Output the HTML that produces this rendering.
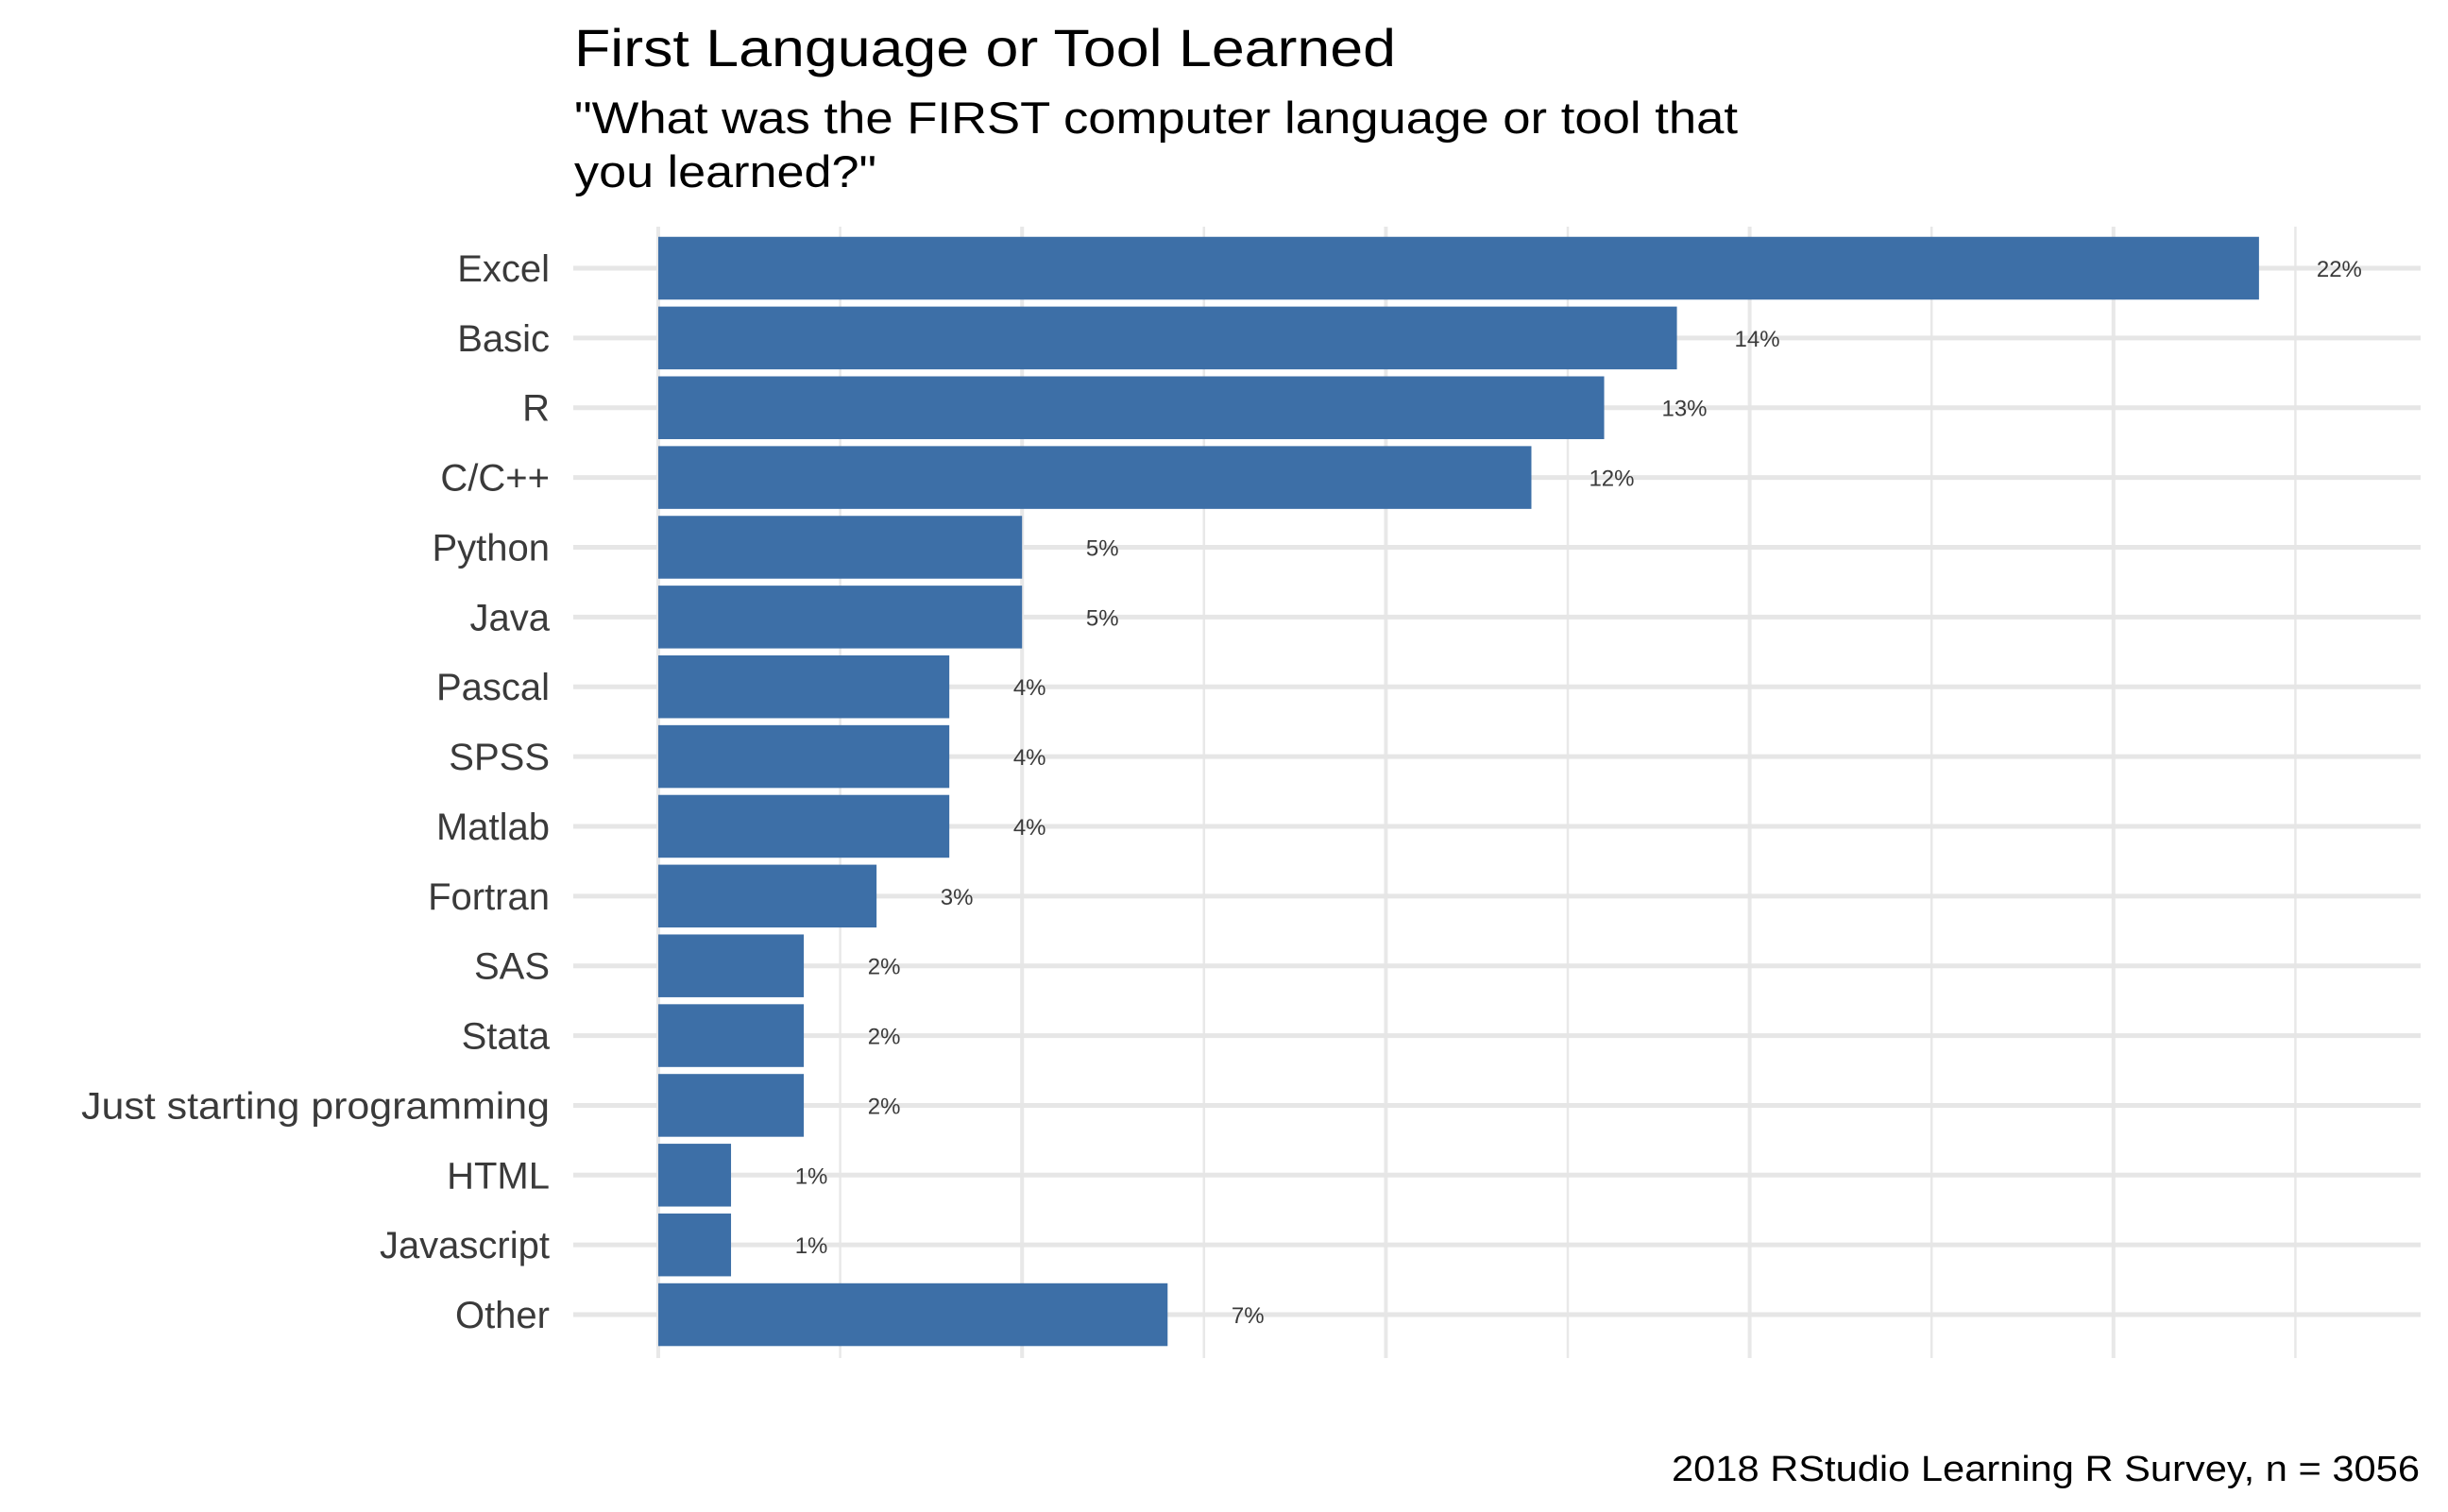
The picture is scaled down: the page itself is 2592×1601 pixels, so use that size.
<!DOCTYPE html>
<html><head><meta charset="utf-8"><style>
html,body{margin:0;padding:0;background:#fff;}
svg{display:block;font-family:"Liberation Sans",sans-serif;}
</style></head><body>
<svg id="chart" width="2592" height="1601" viewBox="0 0 2592 1601" xmlns="http://www.w3.org/2000/svg">
<text x="608" y="70" font-size="56" fill="#000" textLength="870" lengthAdjust="spacingAndGlyphs">First Language or Tool Learned</text>
<text x="608" y="141" font-size="47" fill="#000" textLength="1232" lengthAdjust="spacingAndGlyphs">"What was the FIRST computer language or tool that</text>
<text x="608" y="198" font-size="47" fill="#000" textLength="320" lengthAdjust="spacingAndGlyphs">you learned?"</text>
<g id="grid"></g>
<g id="bars"></g>
<g id="ylabels"></g>
<g id="vlabels"></g>
<text x="2562" y="1568" font-size="38" fill="#000" text-anchor="end" textLength="792" lengthAdjust="spacingAndGlyphs">2018 RStudio Learning R Survey, n = 3056</text>
</svg>
<script>
const categories = ["Excel","Basic","R","C/C++","Python","Java","Pascal","SPSS","Matlab","Fortran","SAS","Stata","Just starting programming","HTML","Javascript","Other"];
const values = [0.22,0.14,0.13,0.12,0.05,0.05,0.04,0.04,0.04,0.03,0.02,0.02,0.02,0.01,0.01,0.07];
const valueLabels = ["22%","14%","13%","12%","5%","5%","4%","4%","4%","3%","2%","2%","2%","1%","1%","7%"];
const gridTicks = [0,0.025,0.05,0.075,0.1,0.125,0.15,0.175,0.2,0.225];

const NS = "http://www.w3.org/2000/svg";
const x0 = 697, pxPerUnit = 7704;
function xScale(v){ return x0 + v * pxPerUnit; }
const yTop = 284, step = 73.87;
function yScale(i){ return yTop + i * step; }
const bandH = step * 0.9;

const grid = document.getElementById('grid');
gridTicks.forEach((t, k) => {
  const l = document.createElementNS(NS, 'line');
  
  
  const x = xScale(t);
  l.setAttribute('x1', x); l.setAttribute('x2', x);
  l.setAttribute('y1', 240); l.setAttribute('y2', 1438);
  l.setAttribute('stroke', '#e8e8e8');
  l.setAttribute('stroke-width', k % 2 === 0 ? 4 : 2.5);
  grid.appendChild(l);
});
categories.forEach((c, i) => {
  const l = document.createElementNS(NS, 'line');
  
  
  const y = yScale(i);
  l.setAttribute('x1', 607); l.setAttribute('x2', 2563);
  l.setAttribute('y1', y); l.setAttribute('y2', y);
  l.setAttribute('stroke', '#e6e6e6');
  l.setAttribute('stroke-width', 5);
  grid.appendChild(l);
});

const bars = document.getElementById('bars');
const ylabels = document.getElementById('ylabels');
const vlabels = document.getElementById('vlabels');
categories.forEach((c, i) => {
  const y = yScale(i);
  const r = document.createElementNS(NS, 'rect');
  
  
  r.setAttribute('x', xScale(0));
  r.setAttribute('y', y - bandH / 2);
  r.setAttribute('width', xScale(values[i]) - xScale(0));
  r.setAttribute('height', bandH);
  r.setAttribute('fill', '#3d6fa7');
  bars.appendChild(r);

  const t = document.createElementNS(NS, 'text');
  
  
  t.setAttribute('x', 582);
  t.setAttribute('y', y + 14);
  t.setAttribute('font-size', '40');
  t.setAttribute('fill', '#3a3a3a');
  t.setAttribute('text-anchor', 'end');
  t.textContent = c;
  if (c === "Just starting programming") {
    t.setAttribute('textLength', '496');
    t.setAttribute('lengthAdjust', 'spacingAndGlyphs');
  }
  ylabels.appendChild(t);

  const v = document.createElementNS(NS, 'text');
  
  
  v.setAttribute('x', xScale(values[i]) + 85);
  v.setAttribute('y', y + 9);
  v.setAttribute('font-size', '24');
  v.setAttribute('fill', '#3a3a3a');
  v.setAttribute('text-anchor', 'middle');
  v.textContent = valueLabels[i];
  vlabels.appendChild(v);
});
</script>
</body></html>
